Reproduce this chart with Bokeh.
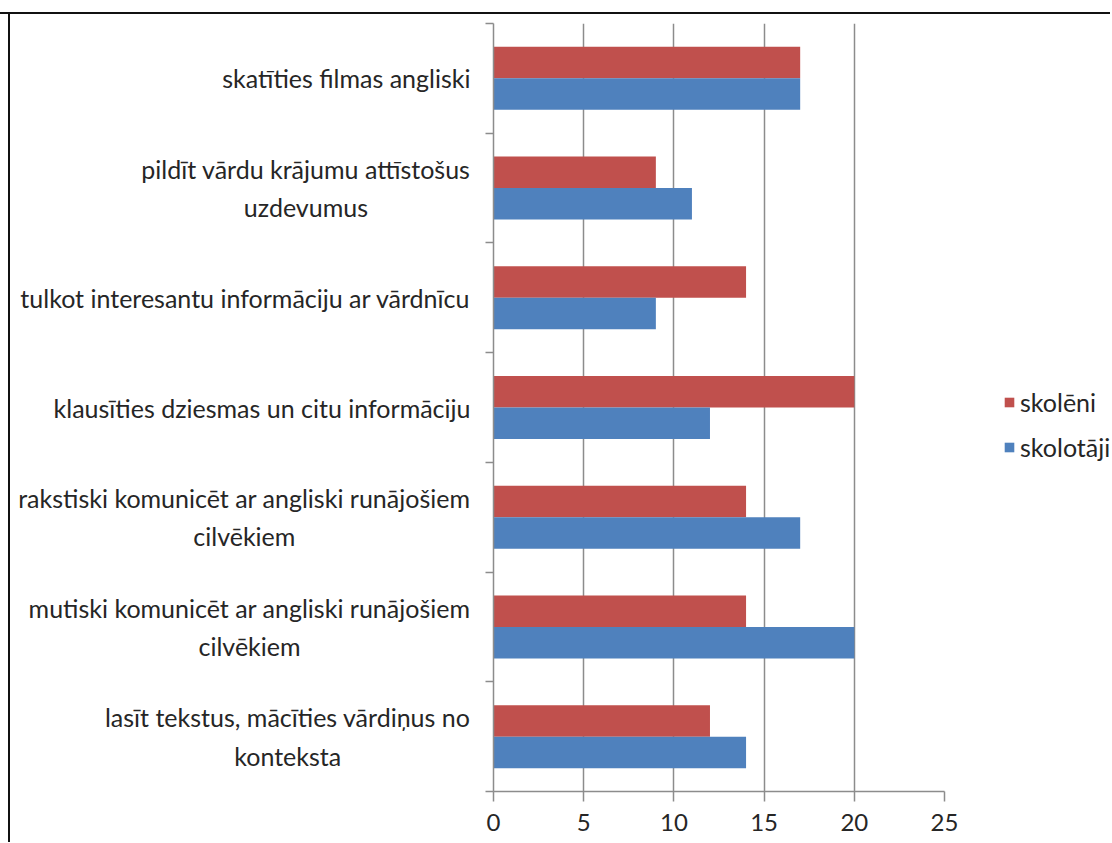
from bokeh.plotting import figure
from bokeh.layouts import row
from bokeh.models import Range1d, FixedTicker, Legend, ColumnDataSource
from bokeh.transform import dodge
from bokeh.core.properties import value
from bokeh.embed import file_html
from bokeh.resources import INLINE

categories = [
    "skatīties filmas angliski",
    "pildīt vārdu krājumu attīstošus\nuzdevumus",
    "tulkot interesantu informāciju ar vārdnīcu",
    "klausīties dziesmas un citu informāciju",
    "rakstiski komunicēt ar angliski runājošiem\ncilvēkiem",
    "mutiski komunicēt ar angliski runājošiem\ncilvēkiem",
    "lasīt tekstus, mācīties vārdiņus no\nkonteksta",
]
skoleni = [17, 9, 14, 20, 14, 14, 12]
skolotaji = [17, 11, 9, 12, 17, 20, 14]
x_ticks = [0, 5, 10, 15, 20, 25]
series_names = ["skolēni", "skolotāji"]

RED = "#C0504D"
BLUE = "#4F81BD"
GRID = "#8c8c8c"
TXT = "#262626"
FONT = "Lato"
FS = "25px"
TICK_FS = "24px"
FRAME_LINE = "#111111"

n = len(categories)
pos = [n - 1 - i for i in range(n)]
src = ColumnDataSource(dict(pos=pos, cat=categories, skoleni=skoleni, skolotaji=skolotaji))

H = 842
TOP = 23
BOTTOM = 51
LW = 480          # label panel width
ML = 13           # main figure left border
FW = 451          # main frame width
MR = 20           # main figure right border
MW = ML + FW + MR
GW = 1110 - LW - MW   # legend panel width

y_range = Range1d(-0.5, n - 0.5)

top_line = f"linear-gradient({FRAME_LINE},{FRAME_LINE}) 0 12px / 100% 2px no-repeat"

# ---- label panel (category names, centred lines, right-anchored block)
lab = figure(
    width=LW, height=H, output_backend="svg", toolbar_location=None,
    x_range=Range1d(0, LW), y_range=y_range,
    x_axis_location=None, y_axis_location=None,
    min_border_left=0, min_border_right=0, min_border_top=TOP, min_border_bottom=BOTTOM,
    border_fill_color=None, background_fill_color=None, outline_line_color=None,
    styles={"background": top_line + ", "
            f"linear-gradient({FRAME_LINE},{FRAME_LINE}) 8px 12px / 2px 100% no-repeat, #ffffff"},
)
lab.grid.visible = False
lab.text(x=LW - 10, y="pos", text="cat", source=src,
         text_align="center", text_baseline="middle", anchor="center_right",
         text_font=value(FONT), text_font_size=FS, text_color=TXT, text_line_height=1.28)

# ---- main chart
p = figure(
    width=MW, height=H, output_backend="svg", toolbar_location=None,
    x_range=Range1d(0, 25), y_range=y_range,
    min_border_left=ML, min_border_right=MR, min_border_top=TOP, min_border_bottom=BOTTOM,
    border_fill_color=None, background_fill_color="white", outline_line_color=None,
    styles={"background": top_line + ", #ffffff"},
)

bw = 0.287
r1 = p.hbar(y=dodge("pos", bw / 2, range=p.y_range), left=0, right="skoleni", height=bw,
            source=src, fill_color=RED, line_color=None)
r2 = p.hbar(y=dodge("pos", -bw / 2, range=p.y_range), left=0, right="skolotaji", height=bw,
            source=src, fill_color=BLUE, line_color=None)

p.xaxis.ticker = FixedTicker(ticks=x_ticks)
p.xaxis.major_tick_out = 10
p.xaxis.major_tick_in = 0
p.xaxis.minor_tick_out = 0
p.xaxis.minor_tick_in = 0
p.xaxis.axis_line_color = GRID
p.xaxis.axis_line_width = 1.5
p.xaxis.major_tick_line_color = GRID
p.xaxis.major_tick_line_width = 1.5
p.xaxis.major_label_standoff = 12
p.xaxis.major_label_text_font = FONT
p.xaxis.major_label_text_font_size = TICK_FS
p.xaxis.major_label_text_color = TXT

p.xgrid.ticker = FixedTicker(ticks=x_ticks)
p.xgrid.grid_line_color = GRID
p.xgrid.grid_line_width = 1.5
p.ygrid.grid_line_color = None

p.yaxis.ticker = FixedTicker(ticks=[], minor_ticks=[k - 0.5 for k in range(n + 1)])
p.yaxis.major_label_standoff = 0
p.yaxis.major_tick_line_color = None
p.yaxis.major_tick_out = 0
p.yaxis.major_tick_in = 0
p.yaxis.minor_tick_out = 8
p.yaxis.minor_tick_in = 0
p.yaxis.minor_tick_line_color = GRID
p.yaxis.minor_tick_line_width = 1.5
p.yaxis.axis_line_color = GRID
p.yaxis.axis_line_width = 1.5

# ---- legend panel (legend keys reuse the series data; the view window lies outside it)
lg = figure(
    width=GW, height=H, output_backend="svg", toolbar_location=None,
    x_range=Range1d(-2, -1), y_range=Range1d(-50, -49),
    x_axis_location=None, y_axis_location=None,
    min_border_left=0, min_border_right=0, min_border_top=0, min_border_bottom=0,
    border_fill_color=None, background_fill_color=None, outline_line_color=None,
    styles={"background": top_line + ", #ffffff"},
)
lg.grid.visible = False
k1 = lg.hbar(y="pos", left=0, right="skoleni", height=bw, source=src,
             fill_color=RED, line_color=None)
k2 = lg.hbar(y="pos", left=0, right="skolotaji", height=bw, source=src,
             fill_color=BLUE, line_color=None)

legend = Legend(
    items=[(series_names[0], [k1]), (series_names[1], [k2])],
    location=(39, 329), orientation="vertical",
    border_line_color=None, background_fill_alpha=0,
    padding=0, margin=0, spacing=15, glyph_width=12, glyph_height=12,
    label_text_font=FONT, label_text_font_size=FS, label_text_color=TXT,
    label_standoff=5,
)
lg.add_layout(legend, "center")

layout = row(lab, p, lg, spacing=0)
open("out.html", "w").write(file_html(layout, INLINE))
